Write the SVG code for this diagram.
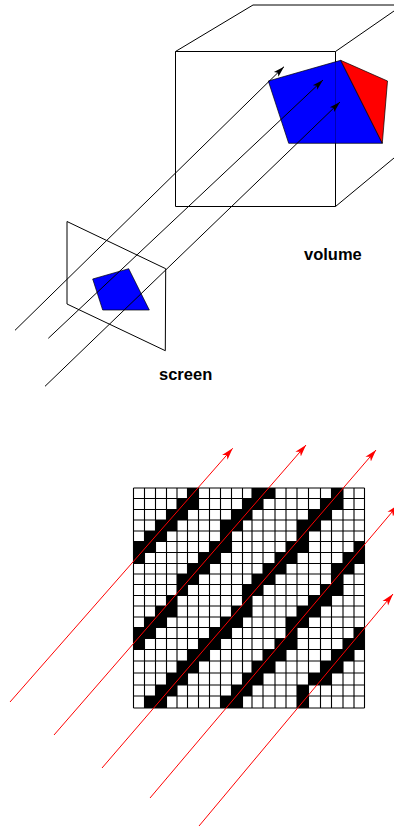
<svg xmlns="http://www.w3.org/2000/svg" width="394" height="826" viewBox="0 0 394 826">
<style>
.l{fill:none;stroke:#000;stroke-width:1}
.k{fill:none;stroke:#000;stroke-width:1;marker-end:url(#ah)}
.r{fill:none;stroke:#f00;stroke-width:1;marker-end:url(#rh)}
.g{fill:none;stroke:#000;stroke-width:1.1}
.t{font-family:"Liberation Sans",Arial,sans-serif;font-weight:bold;font-size:16.5px;fill:#000}
</style>
<defs>
<marker id="ah" markerWidth="14" markerHeight="8" refX="12" refY="4" orient="auto" markerUnits="userSpaceOnUse"><path d="M12 4L1 .8L3.5 4L1 7.2Z" fill="#000"/></marker>
<marker id="rh" markerWidth="14" markerHeight="8" refX="12" refY="4" orient="auto" markerUnits="userSpaceOnUse"><path d="M12 4L0 .4L3 4L0 7.6Z" fill="#f00"/></marker>
</defs>
<g id="volume-box">
<path class="l" d="M175.5 51.5H335.5V206.5H175.5ZM175.5 51.5L253 5H394M335.5 51.5L394 11M335.5 206.5L394 158"/>
</g>
<g id="volume-polygons">
<path d="M268.3 81L340.7 60.3L382.3 143.3H288.7Z" fill="#00f" stroke="#000" stroke-width=".7"/>
<path d="M340.7 60.3L387.5 81L382.3 143.3Z" fill="#f00" stroke="#000" stroke-width=".7"/>
<path d="M335.5 60V143.5" fill="none" stroke="#000" stroke-opacity=".3" stroke-width="1"/>
</g>
<g id="screen">
<path class="l" d="M67 221.5L165.7 268.7L165.3 350.7L67 304Z"/>
<path d="M92.7 279L128.7 268.7L149.3 310H102.7Z" fill="#00f" stroke="#000" stroke-width=".7"/>
</g>
<g id="rays">
<path class="k" d="M15 330.3L284 66.7"/>
<path class="k" d="M48.3 338.3L323 80"/>
<path class="k" d="M45 386.3L340 102"/>
</g>
<text class="t" x="304" y="260">volume</text>
<text class="t" x="159" y="380">screen</text>
<g id="grid-cells">
<path fill="#000" d="M187.5 488H198.5V498.5H187.5ZM252 488H275V498.5H252ZM331.5 488H343V498.5H331.5Z
M177 498.5H198.5V509.5H177ZM242.5 498.5H263V509.5H242.5ZM320.5 498.5H343V509.5H320.5Z
M166.5 509.5H187.5V520H166.5ZM231.5 509.5H252V520H231.5ZM308.5 509.5H331.5V520H308.5Z
M155.5 520H177V531H155.5ZM220.5 520H242.5V531H220.5ZM297 520H320.5V531H297Z
M144.5 531H166.5V541.5H144.5ZM220.5 531H231.5V541.5H220.5ZM297 531H308.5V541.5H297Z
M133.5 541.5H155.5V552.5H133.5ZM209.5 541.5H231.5V552.5H209.5ZM286 541.5H308.5V552.5H286ZM354 541.5H364.5V552.5H354Z
M133.5 552.5H144.5V563.5H133.5ZM198.5 552.5H220.5V563.5H198.5ZM275 552.5H297V563.5H275ZM343 552.5H364.5V563.5H343Z
M187.5 563.5H209.5V574H187.5ZM263 563.5H286V574H263ZM331.5 563.5H354V574H331.5Z
M177 574H198.5V584.5H177ZM252 574H275V584.5H252ZM331.5 574H343V584.5H331.5Z
M177 584.5H187.5V595.5H177ZM242.5 584.5H263V595.5H242.5ZM320.5 584.5H343V595.5H320.5Z
M166.5 595.5H177V606H166.5ZM242.5 595.5H252V606H242.5ZM308.5 595.5H331.5V606H308.5Z
M155.5 606H177V617H155.5ZM231.5 606H252V617H231.5ZM297 606H320.5V617H297Z
M144.5 617H166.5V627.5H144.5ZM220.5 617H242.5V627.5H220.5ZM286 617H308.5V627.5H286Z
M133.5 627.5H155.5V638.5H133.5ZM209.5 627.5H231.5V638.5H209.5ZM286 627.5H297V638.5H286ZM354 627.5H364.5V638.5H354Z
M133.5 638.5H144.5V649.5H133.5ZM198.5 638.5H220.5V649.5H198.5ZM275 638.5H297V649.5H275ZM343 638.5H364.5V649.5H343Z
M187.5 649.5H209.5V661H187.5ZM263 649.5H286V661H263ZM331.5 649.5H354V661H331.5Z
M177 661H198.5V673H177ZM252 661H275V673H252ZM320.5 661H343V673H320.5Z
M166.5 673H187.5V685H166.5ZM242.5 673H263V685H242.5ZM308.5 673H331.5V685H308.5Z
M155.5 685H177V696H155.5ZM231.5 685H252V696H231.5ZM297 685H308.5V696H297Z
M144.5 696H166.5V708H144.5ZM220.5 696H242.5V708H220.5ZM297 696H308.5V708H297Z"/>
</g>
<g id="grid-lines">
<path class="g" d="M133.5 488V708M144.5 488V708M155.5 488V708M166.5 488V708M177 488V708M187.5 488V708M198.5 488V708M209.5 488V708M220.5 488V708M231.5 488V708M242.5 488V708M252 488V708M263 488V708M275 488V708M286 488V708M297 488V708M308.5 488V708M320.5 488V708M331.5 488V708M343 488V708M354 488V708M364.5 488V708"/>
<path class="g" d="M133.5 488H364.5M133.5 498.5H364.5M133.5 509.5H364.5M133.5 520H364.5M133.5 531H364.5M133.5 541.5H364.5M133.5 552.5H364.5M133.5 563.5H364.5M133.5 574H364.5M133.5 584.5H364.5M133.5 595.5H364.5M133.5 606H364.5M133.5 617H364.5M133.5 627.5H364.5M133.5 638.5H364.5M133.5 649.5H364.5M133.5 661H364.5M133.5 673H364.5M133.5 685H364.5M133.5 696H364.5M133.5 708H364.5"/>
</g>
<g id="red-rays">
<path class="r" d="M10 702L232.7 448.3"/>
<path class="r" d="M54 735L306 445"/>
<path class="r" d="M102 768L376 450"/>
<path class="r" d="M150 798L398 505"/>
<path class="r" d="M199 826L393 594"/>
</g>
</svg>
